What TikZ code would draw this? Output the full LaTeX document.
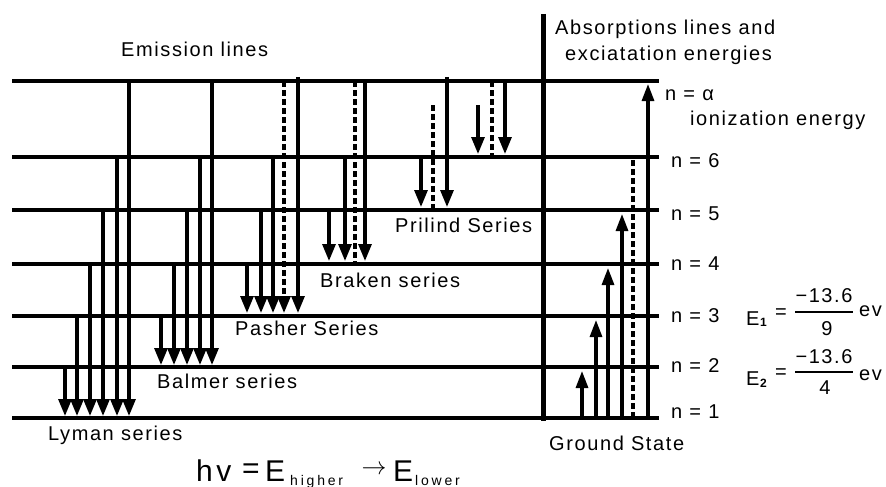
\documentclass[tikz,border=0pt]{standalone}
\usepackage{fontspec}
\setmainfont{Liberation Sans}[LetterSpace=8]
\usetikzlibrary{arrows.meta}
\begin{document}
\begin{tikzpicture}[x=1pt,y=-1pt,
  lvl/.style={line width=3.4pt},
  down/.style={line width=3.1pt,-{Triangle[width=13pt,length=17pt]}},
  up/.style={line width=3.1pt,-{Triangle[width=12pt,length=17pt]}},
  dsh/.style={line width=3.1pt,dash pattern=on 6pt off 3pt},
  lbl/.style={inner sep=0pt,anchor=base west,font=\fontsize{20}{24}\selectfont},
  big/.style={inner sep=0pt,anchor=base west,font=\fontsize{30}{34}\selectfont},
  sub/.style={inner sep=0pt,anchor=base west,font=\fontsize{14}{16}\selectfont\addfontfeature{LetterSpace=20}},
  idx/.style={inner sep=0pt,anchor=base west,font=\fontsize{12}{14}\selectfont\bfseries\addfontfeature{LetterSpace=0}},
]
\useasboundingbox (0,0) rectangle (886,487);

% energy levels: n = infinity, 6, 5, 4, 3, 2, 1
\foreach \y in {81,157,210,264,316,367,418}
  \draw[lvl] (12,\y) -- (659,\y);

% divider between emission and absorption halves
\draw[line width=5pt] (543,14) -- (543,421);

% Lyman series (to n = 1)
\foreach \x/\s in {65/367,77/316,90/264,103/210,117/157,129/81}
  \draw[down] (\x,\s) -- (\x,416);
% Balmer series (to n = 2)
\foreach \x/\s in {161/316,174/264,187/210,200/157,212/81}
  \draw[down] (\x,\s) -- (\x,365);
% Pasher series (to n = 3)
\foreach \x/\s in {247/262,261/210,273/157,298/77}
  \draw[down] (\x,\s) -- (\x,313);
\draw[down,dsh] (284,81) -- (284,313);
% Braken series (to n = 4)
\foreach \x/\s in {329/210,345/157,365/81}
  \draw[down] (\x,\s) -- (\x,261);
\draw[dsh] (355,81) -- (355,264);
% Prilind series (to n = 5)
\foreach \x/\s in {421/157,447/77}
  \draw[down] (\x,\s) -- (\x,207);
\draw[dsh] (433,105) -- (433,210);
% transitions to n = 6
\foreach \x/\s in {478/105,505/81}
  \draw[down] (\x,\s) -- (\x,154);
\draw[dsh] (492,81) -- (492,157);

% absorption from the ground state
\foreach \x/\e in {582/371,596/320,608/268,622/214,648/84}
  \draw[up] (\x,418) -- (\x,\e);
\draw[dsh] (633,160) -- (633,418);

% headings and series names
\node[lbl] (emis) at (121,57) {Emission lines};
\node[lbl] (abs1) at (555,35) {Absorptions lines and};
\node[lbl] (abs2) at (565,61) {exciatation energies};
\node[lbl] (lyman) at (48,440) {Lyman series};
\node[lbl] (balmer) at (157,388) {Balmer series};
\node[lbl] (pasher) at (235,335) {Pasher Series};
\node[lbl] (braken) at (320,287) {Braken series};
\node[lbl] (prilind) at (395,232) {Prilind Series};
\node[lbl] (ground) at (549,450) {Ground State};

% level labels
\node[lbl] (ninf) at (665,100) {n = α};
\node[lbl] (ion) at (690,125) {ionization energy};
\node[lbl] (n6) at (671,167) {n = 6};
\node[lbl] (n5) at (671,220) {n = 5};
\node[lbl] (n4) at (671,270) {n = 4};
\node[lbl] (n3) at (671,322) {n = 3};
\node[lbl] (n2) at (671,372) {n = 2};
\node[lbl] (n1) at (671,418) {n = 1};

% level energies
\node[lbl] (e1) at (746,325) {E};
\node[idx] (e1s) at (760,326) {1};
\node[lbl,anchor=center] (e1q) at (781,314) {=};
\node[lbl,anchor=base] (e1n) at (824,302) {−13.6};
\draw[line width=1.6pt] (795,312) -- (853,312);
\node[lbl,anchor=base] (e1d) at (827,335) {9};
\node[lbl] (e1u) at (859,316) {ev};

\node[lbl] (e2) at (746,385) {E};
\node[idx] (e2s) at (760,387) {2};
\node[lbl,anchor=center] (e2q) at (781,374) {=};
\node[lbl,anchor=base] (e2n) at (824,363) {−13.6};
\draw[line width=1.6pt] (795,372) -- (853,372);
\node[lbl,anchor=base] (e2d) at (825,394) {4};
\node[lbl] (e2u) at (859,380) {ev};

% photon energy relation
\node[big,font=\fontsize{30}{34}\selectfont\addfontfeature{LetterSpace=12}] (hv) at (196,481) {hv};
\node[big,anchor=center] (eq) at (251,471) {=};
\node[big] (eh) at (265,481) {E};
\node[sub] (high) at (290,485) {higher};
\node[inner sep=0pt,anchor=center,font=\fontsize{28}{32}\selectfont] (arr) at (374,470) {$\rightarrow$};
\node[big] (el) at (393,481) {E};
\node[sub] (low) at (415,485) {lower};
\end{tikzpicture}
\end{document}
